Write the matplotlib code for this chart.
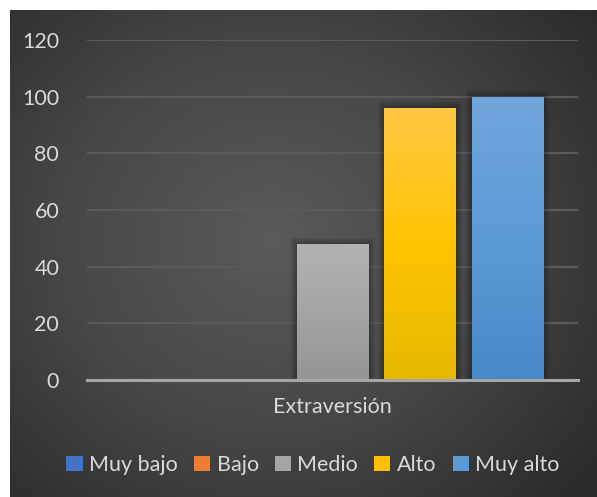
import numpy as np
import matplotlib.pyplot as plt
from matplotlib.patches import Patch, Rectangle
from matplotlib.colors import LinearSegmentedColormap

plt.rcParams['font.family'] = ['Lato', 'DejaVu Sans']

# datos
categoria = 'Extraversión'
niveles = ['Muy bajo', 'Bajo', 'Medio', 'Alto', 'Muy alto']
valores = [0, 0, 48, 96, 100]
colores = ['#4472C4', '#ED7D31', '#A5A5A5', '#FFC000', '#5B9BD5']
# gradientes (arriba, medio, abajo)
grad = [('#5a86d0', '#4472C4', '#3a64b0'),
        ('#f39050', '#ED7D31', '#d86c22'),
        ('#b2b2b2', '#a5a5a5', '#959595'),
        ('#ffc844', '#ffc400', '#e5b800'),
        ('#72a6dc', '#5b9bd5', '#4788c8')]

W, H = 597, 497
fig = plt.figure(figsize=(W / 100, H / 100), dpi=100)
fig.patch.set_facecolor('white')

# fondo radial oscuro
bg = fig.add_axes([10 / W, 0, (W - 10) / W, (H - 10) / H])
yy, xx = np.mgrid[0:487, 0:587]
r = np.sqrt(((xx - 260) / 420.0) ** 2 + ((yy - 230) / 380.0) ** 2)
r = np.clip(r, 0, 1)
cmap_bg = LinearSegmentedColormap.from_list('bg', ['#5a5a5a', '#474747', '#2a2a2a'])
bg.imshow(r, cmap=cmap_bg, aspect='auto', vmin=0, vmax=1)
bg.axis('off')

ax = fig.add_axes([87 / W, (H - 380) / H, (578 - 87) / W, 340 / H])
ax.set_facecolor('none')
x = np.arange(len(niveles))
ancho = 0.817
barras = ax.bar(x, valores, width=ancho, color=colores, zorder=3, linewidth=0)
ax.set_xlim(2 - 2.806, 2 + 2.806)
ax.set_ylim(0, 120)

for b, g in zip(barras, grad):
    h = b.get_height()
    if h <= 0:
        continue
    cm = LinearSegmentedColormap.from_list('g', [g[2], g[1], g[0]])
    grd = np.linspace(1, 0, 256).reshape(-1, 1)
    x0 = b.get_x()
    # sombra difusa
    for k in range(1, 9):
        dx = k * 0.009
        dy = k * 0.28
        ax.add_patch(Rectangle((x0 - dx, -dy), ancho + 2 * dx, h + 2 * dy,
                               facecolor='black', edgecolor='none', alpha=0.035, zorder=2))
    im = ax.imshow(grd, extent=[x0, x0 + ancho, 0, h], aspect='auto',
                   cmap=cm, zorder=4, origin='upper')
    im.set_clip_path(b)
    b.set_facecolor('none')

ax.set_yticks(range(0, 121, 20))
ax.yaxis.grid(True, color='#5a5a5a', linewidth=1.6, zorder=0)
ax.set_axisbelow(True)
for s in ['top', 'right', 'left']:
    ax.spines[s].set_visible(False)
ax.spines['bottom'].set_color('#a6a6a6')
ax.spines['bottom'].set_linewidth(2.2)
ax.spines['bottom'].set_zorder(5)
ax.tick_params(axis='y', length=0, pad=20, labelsize=15.5, labelcolor='#d9d9d9')
ax.tick_params(axis='x', length=0, pad=12, labelsize=15.5, labelcolor='#d9d9d9')
ax.set_xticks([2])
ax.set_xticklabels([categoria])

manejadores = [Patch(facecolor=c, edgecolor='none', label=n) for c, n in zip(colores, niveles)]
leg = fig.legend(handles=manejadores, loc='center', bbox_to_anchor=(313 / W, 1 - 465 / H),
                 ncol=5, frameon=False, fontsize=15.5, handlelength=0.75, handleheight=0.75,
                 handletextpad=0.3, columnspacing=0.75)
for t in leg.get_texts():
    t.set_color('#d9d9d9')

fig.savefig('out.png', dpi=100)
